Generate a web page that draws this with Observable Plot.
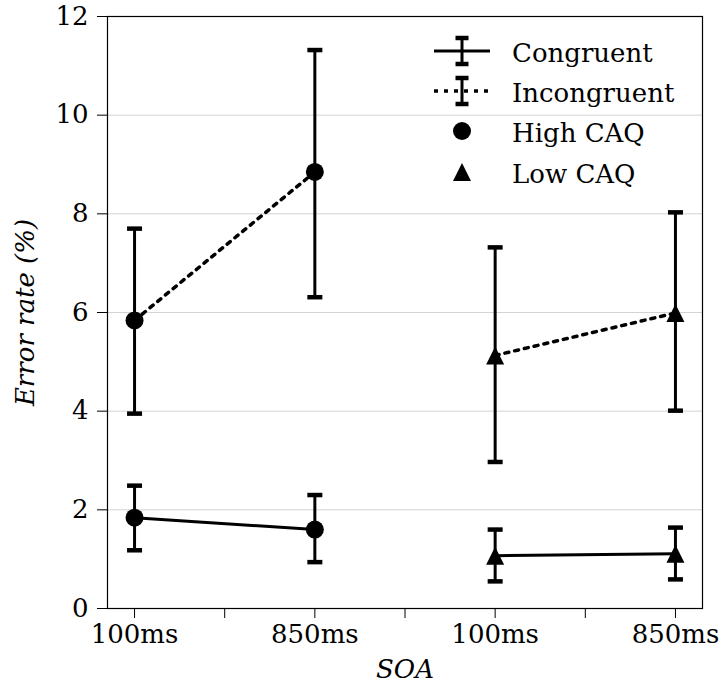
<!DOCTYPE html>
<html>
<head>
<meta charset="utf-8">
<script src="https://cdn.jsdelivr.net/npm/d3@7"></script>
<script src="https://cdn.jsdelivr.net/npm/@observablehq/plot@0.6"></script>
<style>
  html, body { margin: 0; padding: 0; background: #fff; }
  #chart { position: relative; width: 720px; height: 689px; }
  #legend { position: absolute; left: 0; top: 0; pointer-events: none; }
</style>
</head>
<body>
<div id="chart"></div>
<script>
// Error rates (%) by SOA, for high- and low-CAQ groups
const soa = ["100ms", "850ms", "100ms", "850ms"];
const group = ["High CAQ", "High CAQ", "Low CAQ", "Low CAQ"];

const congruentMean = [1.84, 1.60, 1.07, 1.11];
const congruentLow  = [1.18, 0.94, 0.55, 0.59];
const congruentHigh = [2.49, 2.30, 1.60, 1.64];

const incongruentMean = [5.84, 8.85, 5.13, 5.99];
const incongruentLow  = [3.95, 6.31, 2.97, 4.01];
const incongruentHigh = [7.70, 11.32, 7.32, 8.03];

const yTicks = [0, 2, 4, 6, 8, 10, 12];
const legendItems = ["Congruent", "Incongruent", "High CAQ", "Low CAQ"];

function rows(mean, low, high, condition) {
  return soa.map((s, i) => ({
    i, soa: s, group: group[i], condition,
    mean: mean[i], low: low[i], high: high[i]
  }));
}
const congruent = rows(congruentMean, congruentLow, congruentHigh, "Congruent");
const incongruent = rows(incongruentMean, incongruentLow, incongruentHigh, "Incongruent");
const all = congruent.concat(incongruent);

// marker and cap shapes
const capSymbol = {
  draw(ctx) { ctx.moveTo(-7.5, 0); ctx.lineTo(7.5, 0); }
};
const triangleUp = {
  draw(ctx) { ctx.moveTo(0, -9); ctx.lineTo(9, 9); ctx.lineTo(-9, 9); ctx.closePath(); }
};

const font = "DejaVu Serif";
const fontSize = 26;
const dotted = "4,6";

const chart = Plot.plot({
  width: 720,
  height: 689,
  marginLeft: 107,
  marginRight: 18,
  marginTop: 16,
  marginBottom: 81,
  style: { fontFamily: font, fontSize: fontSize + "px", color: "#000", background: "#fff" },
  x: { domain: [-0.15, 3.15] },
  y: { domain: [0, 12] },
  marks: [
    Plot.gridY(yTicks.slice(1, -1), { stroke: "#d3d3d3", strokeOpacity: 1, strokeWidth: 1 }),
    Plot.axisY(yTicks, { tickSize: 10, tickPadding: 9, label: null, stroke: "#000" }),
    Plot.axisX(d3.range(0, 3.01, 0.5), {
      tickSize: 10, tickPadding: 6, label: null, stroke: "#000",
      tickFormat: d => Number.isInteger(d) ? soa[d] : ""
    }),
    Plot.text(["Error rate (%)"], {
      frameAnchor: "left", textAnchor: "middle", dx: -82, rotate: -90,
      fontStyle: "italic", fontSize
    }),
    Plot.text(["SOA"], { frameAnchor: "bottom", dy: 69, fontStyle: "italic", fontSize }),
    // connecting lines within each group
    Plot.line(congruent, { x: "i", y: "mean", z: "group", stroke: "#000", strokeWidth: 3 }),
    Plot.line(incongruent, { x: "i", y: "mean", z: "group", stroke: "#000", strokeWidth: 3.5, strokeDasharray: dotted }),
    // error bars with caps
    Plot.ruleX(all, { x: "i", y1: "low", y2: "high", stroke: "#000", strokeWidth: 3 }),
    Plot.dot(all, { x: "i", y: "low", symbol: capSymbol, stroke: "#000", strokeWidth: 4.5, fill: "none" }),
    Plot.dot(all, { x: "i", y: "high", symbol: capSymbol, stroke: "#000", strokeWidth: 4.5, fill: "none" }),
    // markers
    Plot.dot(all.filter(d => d.group === "High CAQ"), { x: "i", y: "mean", r: 9, fill: "#000" }),
    Plot.dot(all.filter(d => d.group === "Low CAQ"), { x: "i", y: "mean", symbol: triangleUp, fill: "#000" }),
    Plot.frame({ stroke: "#000", strokeWidth: 1.2 })
  ]
});

const container = document.getElementById("chart");
container.appendChild(chart);

// legend in the upper-right corner of the plot area
const legend = d3.select(container).append("svg")
  .attr("id", "legend")
  .attr("width", 720)
  .attr("height", 689);

const hx = 462;           // handle centre
const textX = 512;
const baselines = [62, 102, 142, 183];
const lg = legend.append("g").attr("font-family", font).attr("font-size", fontSize);

legendItems.forEach((label, k) => {
  const cy = baselines[k] - 11;
  if (k < 2) {
    lg.append("line")
      .attr("x1", hx - 28).attr("x2", hx + 28)
      .attr("y1", cy).attr("y2", cy)
      .attr("stroke", "#000")
      .attr("stroke-width", k === 0 ? 3 : 3.5)
      .attr("stroke-dasharray", k === 0 ? null : dotted);
    lg.append("line")
      .attr("x1", hx).attr("x2", hx)
      .attr("y1", cy - 13).attr("y2", cy + 13)
      .attr("stroke", "#000").attr("stroke-width", 3);
    [cy - 13, cy + 13].forEach(y => lg.append("line")
      .attr("x1", hx - 6.5).attr("x2", hx + 6.5)
      .attr("y1", y).attr("y2", y)
      .attr("stroke", "#000").attr("stroke-width", 4.5));
  } else if (k === 2) {
    lg.append("circle").attr("cx", hx).attr("cy", cy).attr("r", 9).attr("fill", "#000");
  } else {
    lg.append("path")
      .attr("d", `M${hx},${cy - 9}L${hx + 9},${cy + 9}L${hx - 9},${cy + 9}Z`)
      .attr("fill", "#000");
  }
  lg.append("text").attr("x", textX).attr("y", baselines[k]).attr("fill", "#000").text(label);
});
</script>
</body>
</html>
